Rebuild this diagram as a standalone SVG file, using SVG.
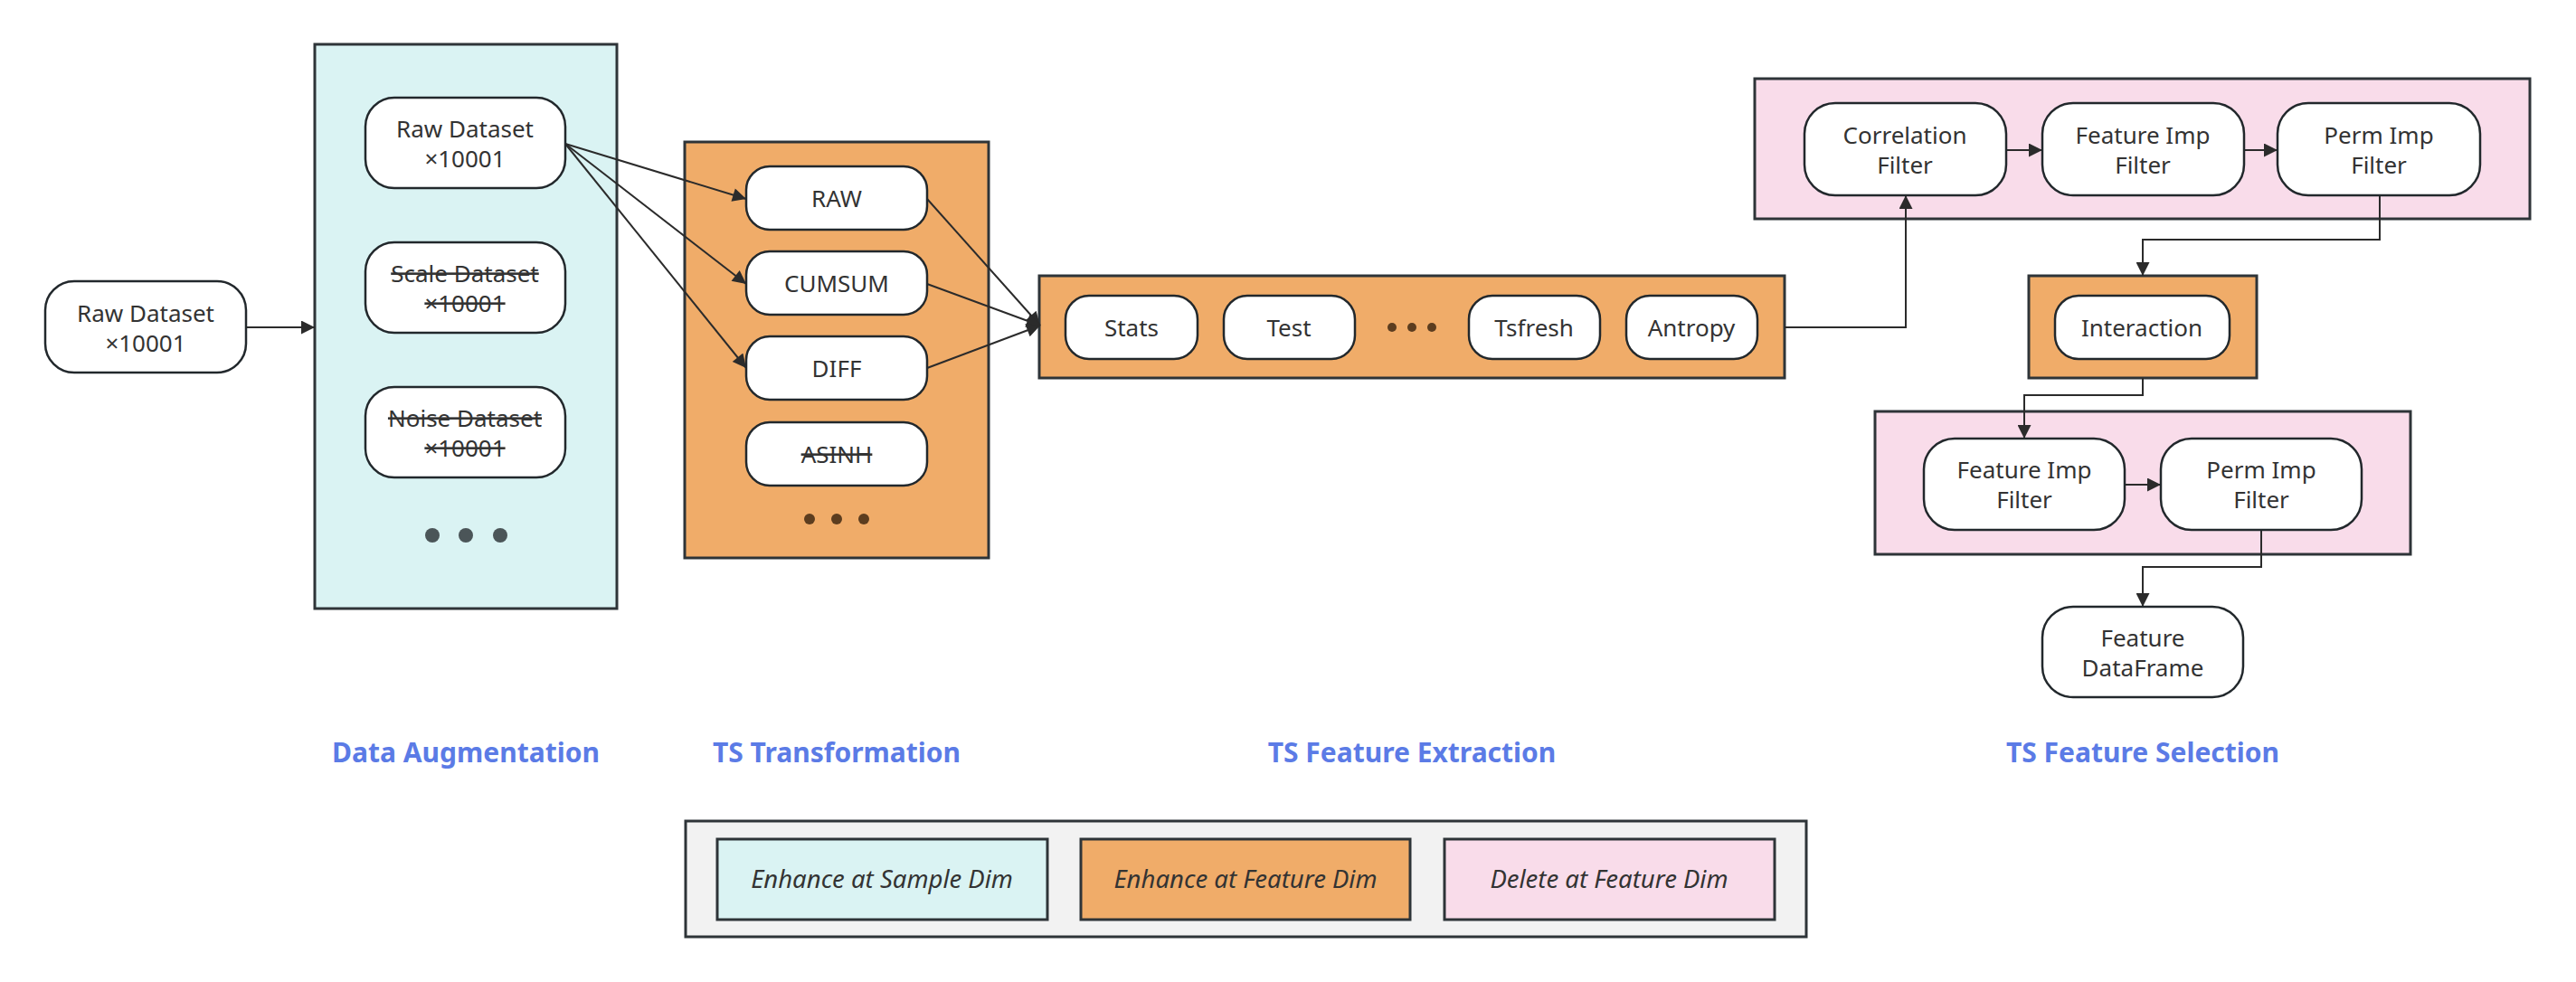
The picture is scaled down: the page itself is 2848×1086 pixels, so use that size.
<svg xmlns="http://www.w3.org/2000/svg" width="2848" height="1086" viewBox="0 0 2848 1086">
<defs>
<marker id="arr" viewBox="0 0 10 10" refX="10" refY="5" markerWidth="19" markerHeight="15" markerUnits="userSpaceOnUse" orient="auto">
<path d="M0,0 L10,5 L0,10 z" fill="#2b2b2b"/>
</marker>
<style>
.cont{stroke:#2e3438;stroke-width:3}
.blue{fill:#daf3f3}
.orange{fill:#f0ac69}
.pink{fill:#f9dcea}
.node{fill:#fff;stroke:#22282c;stroke-width:2.5}
.lbl{font-family:"Noto Sans","Liberation Sans",sans-serif;font-size:26px;fill:#333;text-anchor:middle}
.strike{text-decoration:line-through}
.title{font-family:"Noto Sans","Liberation Sans",sans-serif;font-size:30px;font-weight:bold;fill:#5b7be6;text-anchor:middle}
.leg{font-family:"Noto Sans","Liberation Sans",sans-serif;font-size:27.5px;font-style:italic;fill:#333;text-anchor:middle}
.edge{fill:none;stroke:#2b2b2b;stroke-width:2;marker-end:url(#arr)}
.dotg{fill:#4b5558}
.dotb{fill:#5c3d1f}
</style>
</defs>
<rect width="2848" height="1086" fill="#fff"/>

<!-- containers -->
<g id="grp-augmentation"><rect class="cont blue" x="348" y="49" width="334" height="624"/></g>
<g id="grp-transformation"><rect class="cont orange" x="757" y="157" width="336" height="460"/></g>
<g id="grp-extraction"><rect class="cont orange" x="1149" y="305" width="824" height="113"/></g>
<g id="grp-selection1"><rect class="cont pink" x="1940" y="87" width="857" height="155"/></g>
<g id="grp-interaction"><rect class="cont orange" x="2243" y="305" width="252" height="113"/></g>
<g id="grp-selection2"><rect class="cont pink" x="2073" y="455" width="592" height="158"/></g>

<!-- connectors -->
<g id="connectors">
<path class="edge" d="M272,362 L348,362"/>
<path class="edge" d="M625,159 L825,220"/>
<path class="edge" d="M625,159 L825,314"/>
<path class="edge" d="M625,159 L825,407"/>
<path class="edge" d="M1025,220 L1150,360"/>
<path class="edge" d="M1025,314 L1150,360"/>
<path class="edge" d="M1025,407 L1150,360"/>
<path class="edge" d="M1973,362 L2107,362 L2107,216"/>
<path class="edge" d="M2218,166 L2258,166"/>
<path class="edge" d="M2481,166 L2518,166"/>
<path class="edge" d="M2631,216 L2631,265 L2369,265 L2369,305"/>
<path class="edge" d="M2369,418 L2369,437 L2238,437 L2238,485"/>
<path class="edge" d="M2349,536 L2389,536"/>
<path class="edge" d="M2500,586 L2500,627 L2369,627 L2369,671"/>
</g>

<!-- nodes -->
<g id="n-raw-input"><rect class="node" x="50" y="311" width="222" height="101" rx="32"/>
<text class="lbl" x="161" y="356">Raw Dataset</text><text class="lbl" x="161" y="389">×10001</text></g>

<g id="n-raw"><rect class="node" x="404" y="108" width="221" height="100" rx="32"/>
<text class="lbl" x="514" y="152">Raw Dataset</text><text class="lbl" x="514" y="185">×10001</text></g>
<g id="n-scale"><rect class="node" x="404" y="268" width="221" height="100" rx="32"/>
<text class="lbl strike" x="514" y="312">Scale Dataset</text><text class="lbl strike" x="514" y="345">×10001</text></g>
<g id="n-noise"><rect class="node" x="404" y="428" width="221" height="100" rx="32"/>
<text class="lbl strike" x="514" y="472">Noise Dataset</text><text class="lbl strike" x="514" y="505">×10001</text></g>
<g id="dots-aug"><circle class="dotg" cx="478" cy="592" r="8"/><circle class="dotg" cx="515" cy="592" r="8"/><circle class="dotg" cx="553" cy="592" r="8"/></g>

<g id="n-RAW"><rect class="node" x="825" y="184" width="200" height="70" rx="26"/><text class="lbl" x="925" y="229">RAW</text></g>
<g id="n-CUMSUM"><rect class="node" x="825" y="278" width="200" height="70" rx="26"/><text class="lbl" x="925" y="323">CUMSUM</text></g>
<g id="n-DIFF"><rect class="node" x="825" y="372" width="200" height="70" rx="26"/><text class="lbl" x="925" y="417">DIFF</text></g>
<g id="n-ASINH"><rect class="node" x="825" y="467" width="200" height="70" rx="26"/><text class="lbl strike" x="925" y="512">ASINH</text></g>
<g id="dots-trans"><circle class="dotb" cx="895" cy="574" r="6"/><circle class="dotb" cx="925" cy="574" r="6"/><circle class="dotb" cx="955" cy="574" r="6"/></g>

<g id="n-stats"><rect class="node" x="1178" y="327" width="146" height="70" rx="26"/><text class="lbl" x="1251" y="372">Stats</text></g>
<g id="n-test"><rect class="node" x="1353" y="327" width="145" height="70" rx="26"/><text class="lbl" x="1425" y="372">Test</text></g>
<g id="dots-fe"><circle class="dotb" cx="1539" cy="362" r="5"/><circle class="dotb" cx="1561" cy="362" r="5"/><circle class="dotb" cx="1583" cy="362" r="5"/></g>
<g id="n-tsfresh"><rect class="node" x="1624" y="327" width="145" height="70" rx="26"/><text class="lbl" x="1696" y="372">Tsfresh</text></g>
<g id="n-antropy"><rect class="node" x="1798" y="327" width="145" height="70" rx="26"/><text class="lbl" x="1870" y="372">Antropy</text></g>

<g id="n-corr"><rect class="node" x="1995" y="114" width="223" height="102" rx="34"/>
<text class="lbl" x="2106" y="159">Correlation</text><text class="lbl" x="2106" y="192">Filter</text></g>
<g id="n-fimp1"><rect class="node" x="2258" y="114" width="223" height="102" rx="34"/>
<text class="lbl" x="2369" y="159">Feature Imp</text><text class="lbl" x="2369" y="192">Filter</text></g>
<g id="n-pimp1"><rect class="node" x="2518" y="114" width="224" height="102" rx="34"/>
<text class="lbl" x="2630" y="159">Perm Imp</text><text class="lbl" x="2630" y="192">Filter</text></g>

<g id="n-interaction"><rect class="node" x="2272" y="327" width="193" height="70" rx="26"/><text class="lbl" x="2368" y="372">Interaction</text></g>

<g id="n-fimp2"><rect class="node" x="2127" y="485" width="222" height="101" rx="34"/>
<text class="lbl" x="2238" y="529">Feature Imp</text><text class="lbl" x="2238" y="562">Filter</text></g>
<g id="n-pimp2"><rect class="node" x="2389" y="485" width="222" height="101" rx="34"/>
<text class="lbl" x="2500" y="529">Perm Imp</text><text class="lbl" x="2500" y="562">Filter</text></g>

<g id="n-dataframe"><rect class="node" x="2258" y="671" width="222" height="100" rx="34"/>
<text class="lbl" x="2369" y="715">Feature</text><text class="lbl" x="2369" y="748">DataFrame</text></g>

<!-- titles -->
<g id="titles">
<text class="title" x="515" y="843">Data Augmentation</text>
<text class="title" x="925" y="843">TS Transformation</text>
<text class="title" x="1561" y="843">TS Feature Extraction</text>
<text class="title" x="2369" y="843">TS Feature Selection</text>
</g>

<!-- legend -->
<g id="legend">
<rect x="758" y="908" width="1239" height="128" fill="#f2f2f2" stroke="#2e3438" stroke-width="3"/>
<rect class="blue" x="793" y="928" width="365" height="89" stroke="#2e3438" stroke-width="3"/>
<text class="leg" x="975" y="982">Enhance at Sample Dim</text>
<rect class="orange" x="1195" y="928" width="364" height="89" stroke="#2e3438" stroke-width="3"/>
<text class="leg" x="1377" y="982">Enhance at Feature Dim</text>
<rect class="pink" x="1597" y="928" width="365" height="89" stroke="#2e3438" stroke-width="3"/>
<text class="leg" x="1779" y="982">Delete at Feature Dim</text>
</g>
</svg>
